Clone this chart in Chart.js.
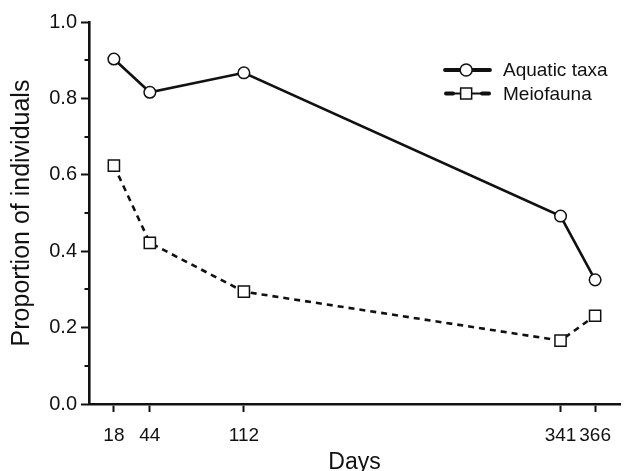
<!DOCTYPE html>
<html><head><meta charset="utf-8">
<script src="https://cdn.jsdelivr.net/npm/chart.js@4"></script>
<style>html,body{margin:0;padding:0;background:#fff}canvas{display:block}</style>
</head><body>
<canvas id="c" width="632" height="471"></canvas>
<script>
// ---- data ----
const days = [18, 44, 112, 341, 366];
const aquaticTaxa = [0.903, 0.816, 0.867, 0.492, 0.325];
const meiofauna = [0.624, 0.422, 0.294, 0.166, 0.231];
const seriesNames = ['Aquatic taxa', 'Meiofauna'];
const xTickValues = [18, 44, 112, 341, 366];
const xTitle = 'Days';
const yTitle = 'Proportion of individuals';

const FONT = "'Liberation Sans', Arial, Helvetica, sans-serif";
const INK = '#111';

function toXY(xs, ys) { return xs.map((x, i) => ({ x: x, y: ys[i] })); }

const minorTicks = {
  id: 'minorTicks',
  afterDraw(chart) {
    const s = chart.scales.y, ctx = chart.ctx;
    ctx.save();
    ctx.strokeStyle = INK; ctx.lineWidth = 2;
    s.ticks.forEach((t, i) => {
      if (i % 2 === 1) {
        const y = Math.round(s.getPixelForValue(t.value));
        ctx.beginPath(); ctx.moveTo(s.right - 4.5, y); ctx.lineTo(s.right, y); ctx.stroke();
      }
    });
    ctx.restore();
  }
};

const customLegend = {
  id: 'customLegend',
  afterDraw(chart, args, opts) {
    const ctx = chart.ctx;
    ctx.save();
    chart.data.datasets.forEach((ds, i) => {
      const y = opts.y + i * opts.gap;
      const x0 = opts.x, x1 = opts.x + opts.len, xm = opts.x + opts.len * 0.47;
      ctx.strokeStyle = INK; ctx.lineCap = 'round';
      if (i === 0) {
        ctx.lineWidth = 3.8;
        ctx.beginPath(); ctx.moveTo(x0, y); ctx.lineTo(x1, y); ctx.stroke();
      } else {
        ctx.lineWidth = 4;
        ctx.beginPath(); ctx.moveTo(x0 + 1, y); ctx.lineTo(x0 + 8, y); ctx.stroke();
        ctx.beginPath(); ctx.moveTo(x1 - 8, y); ctx.lineTo(x1 - 1, y); ctx.stroke();
        ctx.lineWidth = 2;
        ctx.beginPath(); ctx.moveTo(x0 + 8, y); ctx.lineTo(x1 - 8, y); ctx.stroke();
      }
      ctx.lineCap = 'butt';
      ctx.fillStyle = '#fff'; ctx.lineWidth = 1.5;
      ctx.beginPath();
      if (ds.pointStyle === 'rect') ctx.rect(xm - 5.5, y - 5.5, 11, 11);
      else ctx.arc(xm, y, 6, 0, Math.PI * 2);
      ctx.fill(); ctx.stroke();
      ctx.fillStyle = INK;
      ctx.font = opts.fontSize + 'px ' + FONT;
      ctx.textBaseline = 'middle'; ctx.textAlign = 'left';
      ctx.fillText(ds.label, opts.textX, y + 1);
    });
    ctx.restore();
  }
};

new Chart(document.getElementById('c'), {
  type: 'line',
  data: {
    datasets: [
      {
        label: seriesNames[0], data: toXY(days, aquaticTaxa),
        borderColor: INK, borderWidth: 2.6, pointStyle: 'circle',
        pointRadius: 5.8, pointBorderWidth: 1.5, pointBackgroundColor: '#fff', pointBorderColor: INK,
        tension: 0, fill: false
      },
      {
        label: seriesNames[1], data: toXY(days, meiofauna),
        borderColor: INK, borderWidth: 2.6, borderDash: [6, 5], pointStyle: 'rect',
        pointRadius: 7.9, pointBorderWidth: 1.5, pointBackgroundColor: '#fff', pointBorderColor: INK,
        tension: 0, fill: false
      }
    ]
  },
  options: {
    responsive: false, animation: false, devicePixelRatio: 1,
    clip: false,
    layout: { padding: { left: 0, right: 12, top: 22, bottom: 0 } },
    plugins: {
      legend: { display: false }, tooltip: { enabled: false },
      customLegend: { x: 445, y: 70, gap: 23.5, len: 45, textX: 503, fontSize: 19 }
    },
    scales: {
      x: {
        type: 'linear', min: 0, max: 384,
        afterBuildTicks: s => { s.ticks = xTickValues.map(v => ({ value: v })); },
        afterFit: s => { s.height = 67; },
        grid: { drawOnChartArea: false, tickLength: 8, tickColor: INK, tickWidth: 2 },
        border: { display: true, color: INK, width: 2.6 },
        ticks: { color: INK, font: { family: FONT, size: 19 }, padding: 12, maxRotation: 0, autoSkip: false },
        title: { display: true, text: xTitle, color: INK, font: { family: FONT, size: 23, lineHeight: 1 }, padding: { top: 0, bottom: -3 } }
      },
      y: {
        type: 'linear', min: 0, max: 1,
        afterFit: s => { s.width = 89; },
        grid: { drawOnChartArea: false, tickLength: 8, tickWidth: 2,
                tickColor: c => (c.index % 2 === 0 ? INK : 'rgba(0,0,0,0)') },
        border: { display: true, color: INK, width: 2.6 },
        ticks: { stepSize: 0.1, color: INK, font: { family: FONT, size: 20 }, padding: 4,
                 callback: (v, i) => (i % 2 === 0 ? Number(v).toFixed(1) : '') },
        title: { display: true, text: yTitle, color: INK, font: { family: FONT, size: 25, lineHeight: 1 }, padding: { top: 9.5, bottom: 0 } }
      }
    }
  },
  plugins: [minorTicks, customLegend]
});
</script>
</body></html>
